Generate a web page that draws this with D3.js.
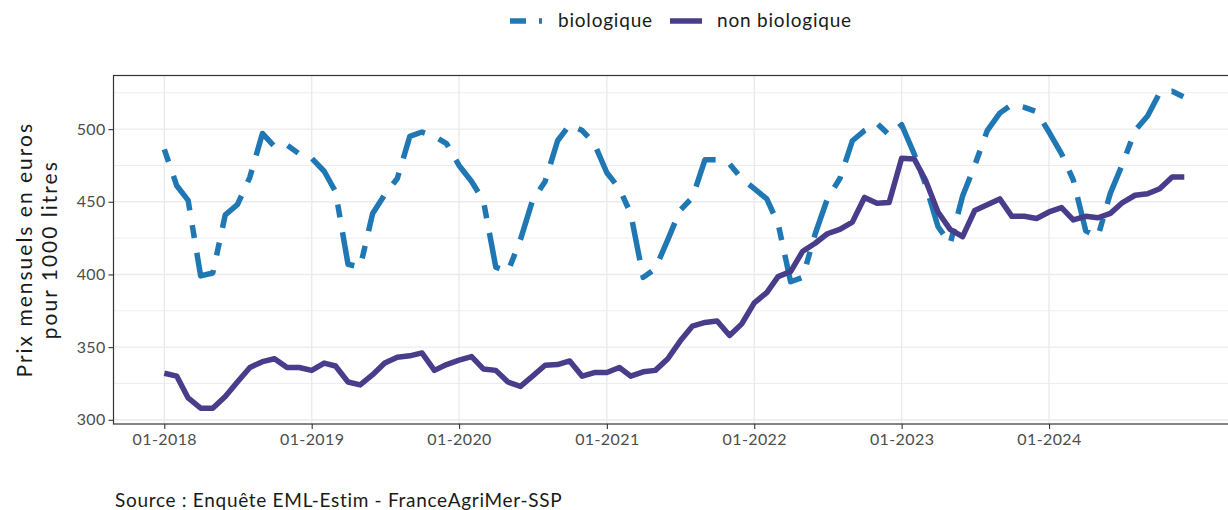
<!DOCTYPE html>
<html>
<head>
<meta charset="utf-8">
<script src="https://cdn.jsdelivr.net/npm/d3@7"></script>
<style>
  html, body { margin: 0; padding: 0; background: #fff; }
  svg { display: block; font-family: Lato, "Open Sans", sans-serif; }
</style>
</head>
<body>
<svg id="chart" width="1228" height="510"></svg>
<script>
const months = [
  "2018-01","2018-02","2018-03","2018-04","2018-05","2018-06","2018-07","2018-08","2018-09","2018-10","2018-11","2018-12",
  "2019-01","2019-02","2019-03","2019-04","2019-05","2019-06","2019-07","2019-08","2019-09","2019-10","2019-11","2019-12",
  "2020-01","2020-02","2020-03","2020-04","2020-05","2020-06","2020-07","2020-08","2020-09","2020-10","2020-11","2020-12",
  "2021-01","2021-02","2021-03","2021-04","2021-05","2021-06","2021-07","2021-08","2021-09","2021-10","2021-11","2021-12",
  "2022-01","2022-02","2022-03","2022-04","2022-05","2022-06","2022-07","2022-08","2022-09","2022-10","2022-11","2022-12",
  "2023-01","2023-02","2023-03","2023-04","2023-05","2023-06","2023-07","2023-08","2023-09","2023-10","2023-11","2023-12",
  "2024-01","2024-02","2024-03","2024-04","2024-05","2024-06","2024-07","2024-08","2024-09","2024-10","2024-11","2024-12"
];

const bio = [
  486, 461, 451, 399, 401, 441, 448, 467, 497, 488, 489, 483,
  480, 471, 457, 407, 405, 442, 455, 466, 495, 498, 495, 490,
  475, 464, 451, 405, 402, 424, 451, 464, 492, 503, 499, 490,
  470, 459, 442, 398, 404, 424, 444, 453, 479, 479, 476, 466,
  459, 452, 435, 395, 398, 428, 452, 466, 492, 499, 504, 496,
  503, 483, 462, 433, 421, 454, 475, 499, 511, 517, 515, 512,
  498, 483, 465, 430, 426, 456, 476, 499, 509, 525, 526, 522
];

const nonBio = [
  332, 330, 315, 308, 308, 316, 326, 336, 340, 342, 336, 336,
  334, 339, 337, 326, 324, 331, 339, 343, 344, 346, 334, 338,
  341, 343.5, 335, 334, 326, 323, 330, 337.5, 338, 340.5, 330, 332.5,
  332.5, 336, 330, 333, 334, 342, 354, 364.5, 367, 368, 358, 366,
  380.5, 387.5, 398.5, 402, 416, 421.5, 428, 431, 436, 453, 449, 449.5,
  480, 479.5, 465, 443, 431, 426, 444, 448, 452, 440, 440, 438.5,
  443, 446, 437.5, 440, 439, 442, 449.5, 454.5, 455.5, 459, 467, 467
];

const seriesNames = ["biologique", "non biologique"];
const yTicks = [300, 350, 400, 450, 500];
const yMinorTicks = [325, 375, 425, 475, 525];
const xTickLabels = ["01-2018","01-2019","01-2020","01-2021","01-2022","01-2023","01-2024"];
const yTitle = ["Prix mensuels en euros", "pour 1000 litres"];
const sourceText = "Source : Enquête EML-Estim - FranceAgriMer-SSP";

const parse = d3.timeParse("%Y-%m");
const dates = months.map(parse);
const series = [
  { name: seriesNames[0], values: bio, color: "#1f78b4", dash: "13,15,39,15" },
  { name: seriesNames[1], values: nonBio, color: "#483d8b", dash: null }
];

const svg = d3.select("#chart");
const panel = { left: 113.5, top: 75.5, bottom: 424, right: 1247 };

const x = d3.scaleTime()
  .domain(d3.extent(dates))
  .range([164.3, 1184.3]);

const allVals = bio.concat(nonBio);
const [vmin, vmax] = d3.extent(allVals);
const pad = (vmax - vmin) * 0.05;
const y = d3.scaleLinear()
  .domain([vmin - pad, vmax + pad])
  .range([panel.bottom, panel.top]);

// Grid
const grid = svg.append("g");
grid.selectAll("line.minor").data(yMinorTicks).join("line")
  .attr("x1", panel.left).attr("x2", panel.right)
  .attr("y1", d => y(d)).attr("y2", d => y(d))
  .attr("stroke", "#ebebeb").attr("stroke-width", 0.9);
grid.selectAll("line.majory").data(yTicks).join("line")
  .attr("x1", panel.left).attr("x2", panel.right)
  .attr("y1", d => y(d)).attr("y2", d => y(d))
  .attr("stroke", "#ebebeb").attr("stroke-width", 1.4);
const xTickDates = xTickLabels.map(d3.timeParse("%m-%Y"));
grid.selectAll("line.majorx").data(xTickDates).join("line")
  .attr("x1", d => x(d)).attr("x2", d => x(d))
  .attr("y1", panel.top).attr("y2", panel.bottom)
  .attr("stroke", "#ebebeb").attr("stroke-width", 1.4);

// Lines
const line = d3.line()
  .x((d, i) => x(dates[i]))
  .y(d => y(d));

series.forEach(s => {
  svg.append("path")
    .datum(s.values)
    .attr("d", line)
    .attr("fill", "none")
    .attr("stroke", s.color)
    .attr("stroke-width", 5.5)
    .attr("stroke-linejoin", "round")
    .attr("stroke-linecap", "butt")
    .attr("stroke-dasharray", s.dash);
});

// Panel border
svg.append("rect")
  .attr("x", panel.left).attr("y", panel.top)
  .attr("width", panel.right - panel.left).attr("height", panel.bottom - panel.top)
  .attr("fill", "none").attr("stroke", "#333333").attr("stroke-width", 1.2);

// Axes
const yAxis = d3.axisLeft(y).tickValues(yTicks).tickSize(5).tickPadding(3);
const gy = svg.append("g").attr("transform", `translate(${panel.left},0)`).call(yAxis);
gy.select(".domain").remove();
gy.selectAll(".tick line").attr("stroke", "#333333").attr("stroke-width", 1.1);
gy.selectAll(".tick text").attr("fill", "#4d4d4d").style("font-size", "16px")
  .style("font-family", "Lato, sans-serif").style("letter-spacing", "0.3px");

const xAxis = d3.axisBottom(x).tickValues(xTickDates)
  .tickFormat((d, i) => xTickLabels[i]).tickSize(5).tickPadding(5);
const gx = svg.append("g").attr("transform", `translate(0,${panel.bottom})`).call(xAxis);
gx.select(".domain").remove();
gx.selectAll(".tick line").attr("stroke", "#333333").attr("stroke-width", 1.1);
gx.selectAll(".tick text").attr("fill", "#4d4d4d").style("font-size", "16px")
  .style("font-family", "Lato, sans-serif").style("letter-spacing", "0.4px");

// Y title
const cy = (panel.top + panel.bottom) / 2;
[[yTitle[0], 32], [yTitle[1], 57]].forEach(([t, tx]) => {
  svg.append("text")
    .attr("transform", `translate(${tx},${cy}) rotate(-90)`)
    .attr("text-anchor", "middle")
    .style("font-size", "21px").style("letter-spacing", "2px")
    .attr("fill", "#1a1a1a")
    .text(t);
});

// Legend
const lg = svg.append("g");
const legendItems = [
  { s: series[0], kx: 510, tx: 558 },
  { s: series[1], kx: 670, tx: 717 }
];
legendItems.forEach(it => {
  lg.append("line")
    .attr("x1", it.kx).attr("x2", it.kx + 32)
    .attr("y1", 21).attr("y2", 21)
    .attr("stroke", it.s.color).attr("stroke-width", 5.5)
    .attr("stroke-dasharray", it.s.dash ? "16,13,39,15" : null);
  lg.append("text")
    .attr("x", it.tx).attr("y", 27)
    .style("font-size", "19px").style("letter-spacing", "0.8px")
    .attr("fill", "#1a1a1a")
    .text(it.s.name);
});

// Source
svg.append("text")
  .attr("x", 115).attr("y", 507)
  .style("font-size", "19px").style("letter-spacing", "0.7px")
  .attr("fill", "#1a1a1a")
  .text(sourceText);
</script>
</body>
</html>
